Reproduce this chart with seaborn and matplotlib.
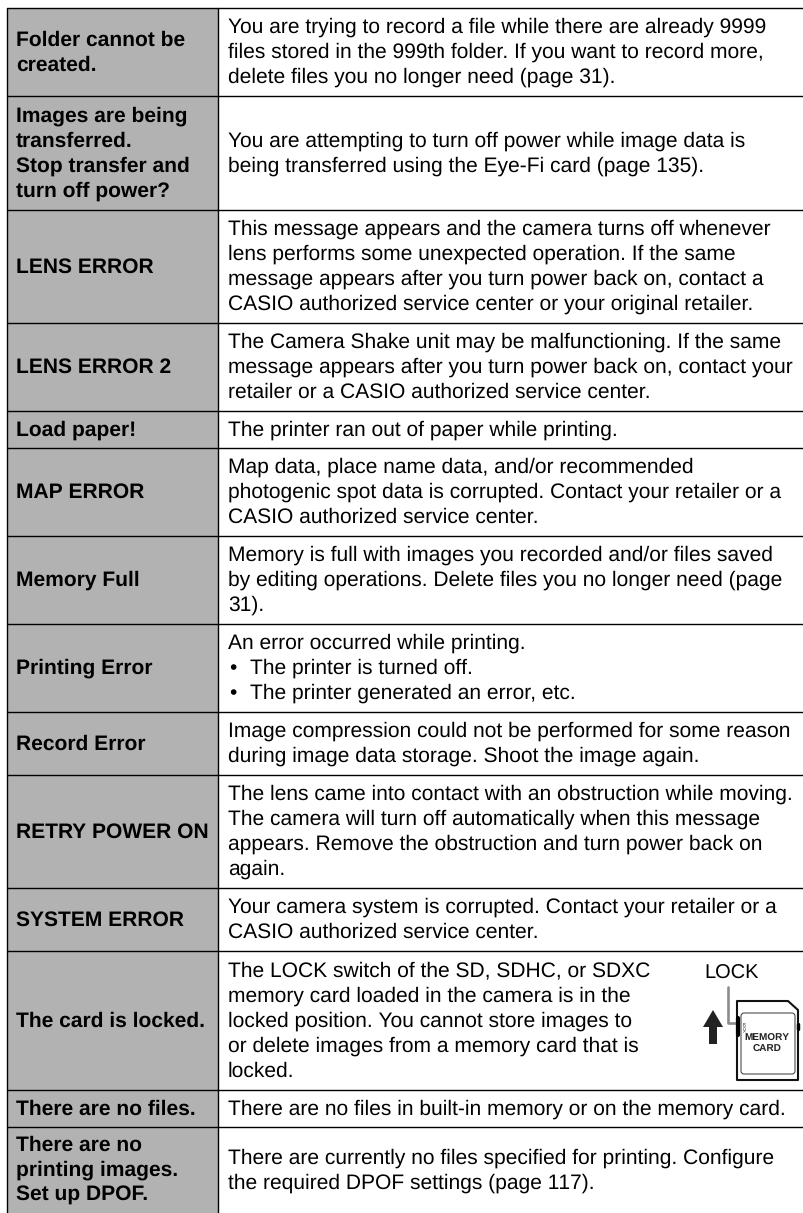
import matplotlib
matplotlib.use("Agg")
import matplotlib.pyplot as plt
from matplotlib.patches import FancyBboxPatch, Polygon
import seaborn as sns

# messages (left column)
messages = [
    ["Folder cannot be", "created."],
    ["Images are being", "transferred.", "Stop transfer and", "turn off power?"],
    ["LENS ERROR"],
    ["LENS ERROR 2"],
    ["Load paper!"],
    ["MAP ERROR"],
    ["Memory Full"],
    ["Printing Error"],
    ["Record Error"],
    ["RETRY POWER ON"],
    ["SYSTEM ERROR"],
    ["The card is locked."],
    ["There are no files."],
    ["There are no", "printing images.", "Set up DPOF."],
]

# explanations (right column)
details = [
    ["You are trying to record a file while there are already 9999",
     "files stored in the 999th folder. If you want to record more,",
     "delete files you no longer need (page 31)."],
    ["You are attempting to turn off power while image data is",
     "being transferred using the Eye-Fi card (page 135)."],
    ["This message appears and the camera turns off whenever",
     "lens performs some unexpected operation. If the same",
     "message appears after you turn power back on, contact a",
     "CASIO authorized service center or your original retailer."],
    ["The Camera Shake unit may be malfunctioning. If the same",
     "message appears after you turn power back on, contact your",
     "retailer or a CASIO authorized service center."],
    ["The printer ran out of paper while printing."],
    ["Map data, place name data, and/or recommended",
     "photogenic spot data is corrupted. Contact your retailer or a",
     "CASIO authorized service center."],
    ["Memory is full with images you recorded and/or files saved",
     "by editing operations. Delete files you no longer need (page",
     "31)."],
    ["An error occurred while printing.",
     "• The printer is turned off.",
     "• The printer generated an error, etc."],
    ["Image compression could not be performed for some reason",
     "during image data storage. Shoot the image again."],
    ["The lens came into contact with an obstruction while moving.",
     "The camera will turn off automatically when this message",
     "appears. Remove the obstruction and turn power back on",
     "again."],
    ["Your camera system is corrupted. Contact your retailer or a",
     "CASIO authorized service center."],
    ["The LOCK switch of the SD, SDHC, or SDXC",
     "memory card loaded in the camera is in the",
     "locked position. You cannot store images to",
     "or delete images from a memory card that is",
     "locked."],
    ["There are no files in built-in memory or on the memory card."],
    ["There are currently no files specified for printing. Configure",
     "the required DPOF settings (page 117)."],
]

# row borders in pixels
row_lines = [8, 96, 210, 323, 411, 448, 536, 624, 712, 775, 888, 951, 1090, 1127, 1213]

W, H = 804, 1213
GREY = "#b2b2b2"
FONT = 15.05
FONT_BOLD = 15.2
PITCH = 25
LEFT, DIVIDE = 7, 218

sns.set_theme(style="white")
plt.rcParams["font.family"] = ["Liberation Sans", "DejaVu Sans"]
plt.rcParams["text.hinting"] = "no_hinting"
plt.rcParams["text.hinting_factor"] = 1

fig = plt.figure(figsize=(W / 100, H / 100), dpi=100)
ax = fig.add_axes([0, 0, 1, 1])
ax.set_xlim(0, W)
ax.set_ylim(H, 0)
ax.axis("off")

tops = row_lines[:-1]
heights = [b - t for t, b in zip(row_lines[:-1], row_lines[1:])]
ax.barh(tops, [DIVIDE - LEFT] * len(tops), height=heights, left=LEFT, align="edge", color=GREY, lw=0)

for y in row_lines[:-1]:
    ax.plot([LEFT, W], [y, y], color="black", lw=1.0, solid_capstyle="butt")
ax.plot([LEFT, LEFT], [row_lines[0], H], color="black", lw=1.0)
ax.plot([DIVIDE, DIVIDE], [row_lines[0], H], color="black", lw=1.0)


def put_lines(lines, x, top, h, size, **kw):
    y0 = top + (h - PITCH * len(lines)) / 2 + 18.5
    for i, s in enumerate(lines):
        y = y0 + i * PITCH
        if s.startswith("• "):
            ax.text(x + 1, y, "•", fontsize=size, va="baseline", color="black", **kw)
            ax.text(x + 22, y, s[2:], fontsize=size, va="baseline", color="black", **kw)
        else:
            ax.text(x, y, s, fontsize=size, va="baseline", color="black", **kw)


for msg, det, t, h in zip(messages, details, tops, heights):
    put_lines(msg, 16, t, h, FONT_BOLD, fontweight="bold")
    put_lines(det, 228, t, h, FONT)

# memory card drawing
ax.text(704, 979, "LOCK", fontsize=14.7, va="baseline", color="black")
ax.plot([728.5, 728.5, 738], [987, 1023, 1023], color="#8c8c8c", lw=1.9)
ax.add_patch(Polygon([[713, 1010], [723, 1027], [717, 1027], [717, 1044], [709, 1044],
                      [709, 1027], [703, 1027]], closed=True, color="#222222", lw=0))
ax.add_patch(Polygon([[737, 1001], [788, 1001], [798, 1010], [798, 1080], [737, 1080]],
                     closed=True, fill=False, ec="#111111", lw=1.5, joinstyle="round"))
ax.add_patch(FancyBboxPatch((741, 1013), 54, 61, boxstyle="round,pad=0,rounding_size=3",
                            fill=False, ec="#333333", lw=0.7))
ax.plot([738.5, 738.5], [1018, 1035], color="black", lw=3)
ax.plot([798, 798], [1024, 1029], color="black", lw=2.5)
ax.text(743, 1027, "LOCK", fontsize=3, rotation=270, ha="center", va="center", color="black")
ax.text(767, 1038, "MEMORY", fontsize=7.4, fontweight="bold", ha="center", va="center", color="#222222")
ax.text(767, 1049, "CARD", fontsize=7.4, fontweight="bold", ha="center", va="center", color="#222222")

fig.savefig("out.png", dpi=100)
